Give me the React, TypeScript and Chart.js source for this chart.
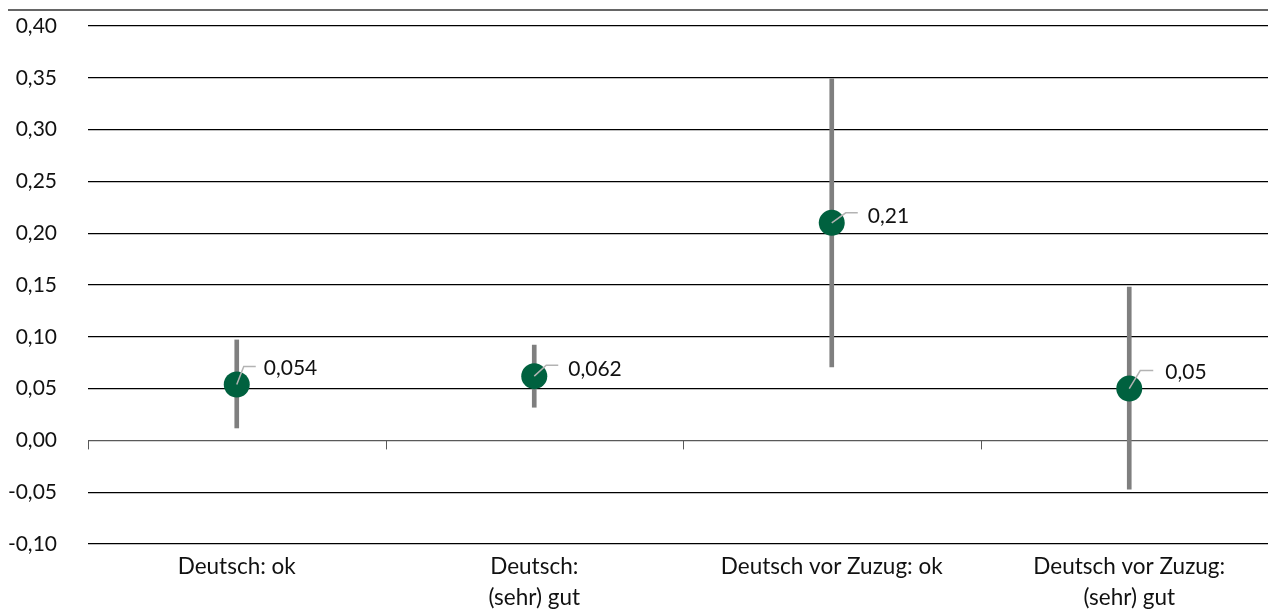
import React, { useEffect, useRef } from 'react';
import { Chart, registerables } from 'chart.js';

Chart.register(...registerables);

const categories: string[][] = [
  ['Deutsch: ok'],
  ['Deutsch:', '(sehr) gut'],
  ['Deutsch vor Zuzug: ok'],
  ['Deutsch vor Zuzug:', '(sehr) gut'],
];
const estimates = [0.054, 0.062, 0.21, 0.05];
const lowerBounds = [0.012, 0.032, 0.071, -0.047];
const upperBounds = [0.097, 0.092, 0.349, 0.148];
const estimateLabels = ['0,054', '0,062', '0,21', '0,05'];
const yMin = -0.1;
const yMax = 0.4;
const yStep = 0.05;

// label placement (leader elbow dx, dy, leader end dx, text dx, text dy)
const labelNudges = [
  [7, -18, 19, 27, -16],
  [12, -11, 24, 34, -7],
  [14, -10, 26, 36, -7],
  [11, -18, 24, 36, -16],
];

const FONT = 'Lato, "Noto Sans", sans-serif';
const GREEN = '#00613F';
const GREY = '#7f7f7f';

const decorPlugin = {
  id: 'decor',
  beforeDraw(chart: any) {
    const ctx = chart.ctx;
    ctx.save();
    ctx.strokeStyle = '#333';
    ctx.lineWidth = 1.5;
    ctx.beginPath();
    ctx.moveTo(8, 10);
    ctx.lineTo(chart.width, 10);
    ctx.stroke();
    ctx.restore();
  },
  afterDraw(chart: any) {
    const ctx = chart.ctx;
    const xs = chart.scales.x;
    const ys = chart.scales.y;
    const y0 = ys.getPixelForValue(0);
    const half = (xs.getPixelForValue(1) - xs.getPixelForValue(0)) / 2;
    ctx.save();
    ctx.strokeStyle = '#595959';
    ctx.lineWidth = 1;
    for (let i = 0; i <= categories.length; i++) {
      const x = Math.round(xs.getPixelForValue(0) - half + i * 2 * half) + 0.5;
      ctx.beginPath();
      ctx.moveTo(x, y0);
      ctx.lineTo(x, y0 + 9);
      ctx.stroke();
    }
    ctx.restore();
  },
  afterDatasetsDraw(chart: any) {
    const ctx = chart.ctx;
    const meta = chart.getDatasetMeta(1);
    ctx.save();
    meta.data.forEach((pt: any, i: number) => {
      const [ex, ey, lx, tx, ty] = labelNudges[i];
      ctx.strokeStyle = '#b3b3b3';
      ctx.lineWidth = 1.5;
      ctx.beginPath();
      ctx.moveTo(pt.x, pt.y);
      ctx.lineTo(pt.x + ex, pt.y + ey);
      ctx.lineTo(pt.x + lx, pt.y + ey);
      ctx.stroke();
      ctx.fillStyle = '#111';
      ctx.font = `21px ${FONT}`;
      ctx.textAlign = 'left';
      ctx.textBaseline = 'middle';
      ctx.fillText(estimateLabels[i], pt.x + tx, pt.y + ty);
    });
    ctx.restore();
  },
};

export default function App() {
  const canvasRef = useRef<HTMLCanvasElement | null>(null);

  useEffect(() => {
    if (!canvasRef.current) return;
    Chart.defaults.font.family = FONT;
    Chart.defaults.color = '#111';
    const chart = new Chart(canvasRef.current, {
      type: 'bar',
      data: {
        labels: categories as any,
        datasets: [
          {
            type: 'bar',
            data: lowerBounds.map((l, i) => [l, upperBounds[i]]) as any,
            backgroundColor: GREY,
            barThickness: 4,
            order: 1,
          },
          {
            type: 'line',
            data: estimates,
            showLine: false,
            pointRadius: 13,
            pointHoverRadius: 13,
            pointBackgroundColor: GREEN,
            pointBorderWidth: 0,
            borderColor: GREEN,
            order: 0,
          } as any,
        ],
      },
      options: {
        animation: false,
        responsive: true,
        maintainAspectRatio: false,
        layout: { autoPadding: false, padding: { top: 26, left: 0, right: 0, bottom: 0 } },
        plugins: {
          legend: { display: false },
          tooltip: { enabled: false },
        },
        scales: {
          x: {
            offset: true,
            grid: { display: false, drawTicks: false },
            border: { display: false },
            ticks: {
              font: { size: 22.5, lineHeight: 1.38 },
              padding: 7,
              maxRotation: 0,
              autoSkip: false,
            },
            afterFit(scale: any) {
              scale.height = 66;
              scale.paddingLeft = 0;
              scale.paddingRight = 0;
            },
          },
          y: {
            min: yMin,
            max: yMax,
            border: { display: false },
            grid: {
              drawTicks: false,
              color: (c: any) => (Math.abs(c.tick.value) < 1e-9 ? '#595959' : '#000'),
              lineWidth: 1.2,
            },
            ticks: {
              stepSize: yStep,
              padding: 31,
              font: { size: 21 },
              callback: (v: any) => Number(v).toFixed(2).replace('.', ','),
            },
            afterFit(scale: any) {
              scale.width = 88;
              scale.paddingTop = 0;
              scale.paddingBottom = 0;
            },
          },
        },
      },
      plugins: [decorPlugin],
    });
    return () => chart.destroy();
  }, []);

  return (
    <div style={{ position: 'fixed', left: 0, top: 0, width: 1268, height: 610, overflow: 'hidden', background: '#fff' }}>
      <div style={{ position: 'relative', width: 1278, height: 610 }}>
        <canvas ref={canvasRef} />
      </div>
    </div>
  );
}
